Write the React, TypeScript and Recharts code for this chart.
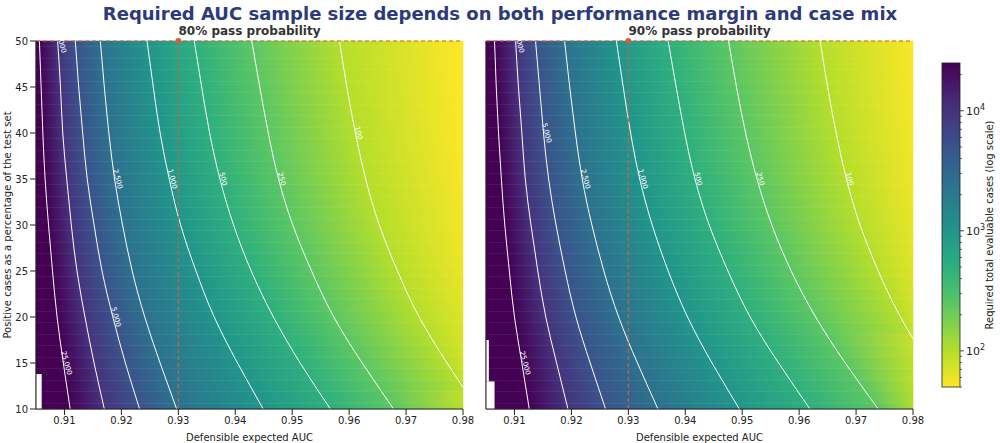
import React from "react";
import {
  ComposedChart,
  Line,
  XAxis,
  YAxis,
  ReferenceArea,
  ReferenceLine,
  ReferenceDot,
} from "recharts";

// percent positive rows (top to bottom)
const rowsY = [50, 45, 40, 35, 30, 25, 20, 15, 10];
const levels = [25000, 10000, 5000, 2500, 1000, 500, 250, 100];
const levelText = ["25,000", "10,000", "5,000", "2,500", "1,000", "500", "250", "100"];
const xTicks = [0.91, 0.92, 0.93, 0.94, 0.95, 0.96, 0.97, 0.98];
const yTicks = [10, 15, 20, 25, 30, 35, 40, 45, 50];

// AUC where each contour level crosses each row
const contours80 = [
  [0.9056, 0.9059, 0.9062, 0.9066, 0.9072, 0.9079, 0.9087, 0.9098, 0.911],
  [0.9088, 0.9093, 0.9097, 0.9104, 0.9112, 0.9122, 0.9136, 0.9152, 0.917],
  [0.9119, 0.9125, 0.9132, 0.914, 0.9152, 0.9166, 0.9185, 0.9207, 0.9232],
  [0.9163, 0.917, 0.9178, 0.9188, 0.9202, 0.9219, 0.9241, 0.9268, 0.9297],
  [0.9245, 0.9256, 0.9268, 0.9284, 0.9304, 0.9331, 0.9363, 0.9404, 0.9449],
  [0.9328, 0.9341, 0.9355, 0.9373, 0.9397, 0.9428, 0.9467, 0.9514, 0.9567],
  [0.9429, 0.9443, 0.9458, 0.9476, 0.9501, 0.9534, 0.9573, 0.9623, 0.9678],
  [0.9583, 0.9596, 0.9611, 0.9629, 0.9653, 0.9685, 0.9723, 0.9772, 0.9825],
];
const contours90 = [
  [0.9065, 0.9068, 0.9072, 0.9077, 0.9083, 0.9091, 0.91, 0.9113, 0.9126],
  [0.9102, 0.9107, 0.9113, 0.9119, 0.9129, 0.9141, 0.9155, 0.9174, 0.9194],
  [0.9137, 0.9144, 0.9151, 0.916, 0.9173, 0.9189, 0.9208, 0.9233, 0.926],
  [0.9188, 0.9197, 0.9207, 0.9219, 0.9236, 0.9257, 0.9283, 0.9316, 0.9352],
  [0.9279, 0.9291, 0.9304, 0.932, 0.9342, 0.937, 0.9404, 0.9447, 0.9495],
  [0.937, 0.9384, 0.9399, 0.9417, 0.9442, 0.9475, 0.9514, 0.9564, 0.9619],
  [0.9476, 0.949, 0.9506, 0.9526, 0.9552, 0.9586, 0.9629, 0.9681, 0.9739],
  [0.9637, 0.965, 0.9665, 0.9683, 0.9707, 0.9739, 0.9778, 0.9827, 0.988],
];
// required cases at AUC 0.98 for each row
const rightEdge80 = [50, 50, 51, 53, 56, 60, 67, 78, 95];
const rightEdge90 = [52, 53, 55, 58, 62, 68, 78, 92, 108];
// label row index per level
const labelIdx80 = [7, 0, 6, 3, 3, 3, 3, 2];
const labelIdx90 = [7, 0, 2, 3, 3, 3, 3, 3];

const X0 = 0.905;
const X1 = 0.98;
const SUB = 4; // fill bands per row step
const LOG_MIN = Math.log10(50);
const LOG_MAX = Math.log10(25000);

const VIRIDIS = [
  "#440154", "#482878", "#3e4989", "#31688e", "#26828e",
  "#1f9e89", "#35b779", "#6ece58", "#b5de2b", "#fde725",
];
function hex(c: string) {
  return [1, 3, 5].map((i) => parseInt(c.slice(i, i + 2), 16));
}
function viridis(t: number) {
  t = Math.max(0, Math.min(1, t));
  const p = t * (VIRIDIS.length - 1);
  const i = Math.min(VIRIDIS.length - 2, Math.floor(p));
  const f = p - i;
  const a = hex(VIRIDIS[i]);
  const b = hex(VIRIDIS[i + 1]);
  const m = a.map((v, k) => Math.round(v + (b[k] - v) * f));
  return `rgb(${m[0]},${m[1]},${m[2]})`;
}
function caseColor(v: number) {
  return viridis(1 - (Math.log10(v) - LOG_MIN) / (LOG_MAX - LOG_MIN));
}

// fill bands: blend between neighbouring rows for a smooth shading
function bands(contours: number[][], edge: number[]) {
  const out: { y: number; stops: { o: number; c: string }[] }[] = [];
  const n = (rowsY.length - 1) * SUB;
  for (let k = 0; k <= n; k++) {
    const r = Math.min(rowsY.length - 2, Math.floor(k / SUB));
    const f = k / SUB - r;
    const y = rowsY[r] + (rowsY[r + 1] - rowsY[r]) * f;
    const stops: { o: number; c: string }[] = [{ o: 0, c: caseColor(40000) }];
    levels.forEach((lv, li) => {
      const x = contours[li][r] + (contours[li][r + 1] - contours[li][r]) * f;
      if (x < X1) stops.push({ o: (x - X0) / (X1 - X0), c: caseColor(lv) });
    });
    const e = Math.pow(10, Math.log10(edge[r]) * (1 - f) + Math.log10(edge[r + 1]) * f);
    stops.push({ o: 1, c: caseColor(e) });
    out.push({ y, stops });
  }
  return out;
}

function Gradients({ id, contours, edge }: { id: string; contours: number[][]; edge: number[] }) {
  return (
    <>
      {bands(contours, edge).map((b, r) => (
        <linearGradient key={r} id={`${id}-${r}`} x1="0" y1="0" x2="1" y2="0">
          {b.stops.map((s, k) => (
            <stop key={k} offset={s.o} stopColor={s.c} />
          ))}
        </linearGradient>
      ))}
    </>
  );
}

function Panel({
  id,
  contours,
  edge,
  labelIdx,
  showYLabels,
  nanAreas,
}: {
  id: string;
  contours: number[][];
  edge: number[];
  labelIdx: number[];
  showYLabels: boolean;
  nanAreas: number[][];
}) {
  const half = 5 / SUB / 2;
  return (
    <ComposedChart width={480} height={443} margin={{ top: 41, right: 17, bottom: 0, left: 0 }}>
      <XAxis
        type="number"
        dataKey="x"
        domain={[X0, X1]}
        ticks={xTicks}
        allowDataOverflow
        tickFormatter={(v) => v.toFixed(2)}
        tick={{ fontSize: 10, fill: "#222" }}
        stroke="#222"
        height={34}
        label={{ value: "Defensible expected AUC", position: "insideBottom", offset: 2, fontSize: 10, fill: "#222" }}
      />
      <YAxis
        type="number"
        dataKey="y"
        domain={[10, 50]}
        ticks={yTicks}
        allowDataOverflow
        width={36}
        tick={showYLabels ? { fontSize: 10, fill: "#222" } : false}
        stroke="#222"
      />
      {bands(contours, edge).map((b, r) => (
        <ReferenceArea
          key={r}
          x1={X0}
          x2={X1}
          y1={Math.max(10, b.y - half)}
          y2={Math.min(50, b.y + half)}
          fill={`url(#${id}-${r})`}
          fillOpacity={1}
          stroke={`url(#${id}-${r})`}
          strokeWidth={0.6}
        />
      ))}
      {nanAreas.map((a, k) => (
        <ReferenceArea key={k} x1={a[0]} x2={a[1]} y1={a[2]} y2={a[3]} fill="#fff" fillOpacity={1} />
      ))}
      {levels.map((lv, li) => (
        <Line
          key={lv}
          data={rowsY.map((y, r) => ({ x: contours[li][r], y }))}
          dataKey="y"
          type="natural"
          stroke="#fff"
          strokeWidth={1}
          dot={false}
          isAnimationActive={false}
          label={(p: any) =>
            p.index === labelIdx[li] ? (
              <text
                key={p.index}
                x={p.x + 3}
                y={p.y}
                fill="#fff"
                fontSize={7}
                textAnchor="middle"
                dominantBaseline="central"
                transform={`rotate(75 ${p.x + 3} ${p.y})`}
              >
                {levelText[li]}
              </text>
            ) : (
              <g key={p.index} />
            )
          }
        />
      ))}
      <ReferenceLine x={0.93} stroke="#d1603d" strokeDasharray="4 3" strokeWidth={1.2} />
      <ReferenceLine y={50} stroke="#d1603d" strokeDasharray="4 3" strokeWidth={1.2} />
      <ReferenceDot x={0.93} y={50} r={3} fill="#d1603d" stroke="none" />
    </ComposedChart>
  );
}

function Colorbar() {
  const top = 63;
  const bot = 387;
  const yOf = (v: number) => bot - ((Math.log10(v) - LOG_MIN) / (LOG_MAX - LOG_MIN)) * (bot - top);
  const minor: number[] = [];
  [10, 100, 1000, 10000].forEach((d) => {
    for (let k = 2; k <= 9; k++) if (d * k >= 50 && d * k <= 25000) minor.push(d * k);
  });
  const stops = Array.from({ length: 11 }, (_, i) => i / 10);
  return (
    <svg width={1000} height={443} style={{ position: "absolute", left: 0, top: 0, pointerEvents: "none" }}>
      <defs>
        <linearGradient id="cbar" x1="0" y1="1" x2="0" y2="0">
          {stops.map((s) => (
            <stop key={s} offset={s} stopColor={viridis(1 - s)} />
          ))}
        </linearGradient>
      </defs>
      <rect x={942} y={top} width={18} height={bot - top} fill="url(#cbar)" stroke="#222" strokeWidth={0.8} />
      {minor.map((v) => (
        <line key={v} x1={960} x2={962} y1={yOf(v)} y2={yOf(v)} stroke="#222" strokeWidth={0.7} />
      ))}
      {[100, 1000, 10000].map((v, i) => (
        <g key={v}>
          <line x1={960} x2={964} y1={yOf(v)} y2={yOf(v)} stroke="#222" strokeWidth={0.8} />
          <text x={966} y={yOf(v) + 4} fontSize={11} fill="#222" fontFamily="DejaVu Sans">
            10
            <tspan dy={-5} fontSize={8}>
              {i + 2}
            </tspan>
          </text>
        </g>
      ))}
      <text
        x={993}
        y={225}
        fontSize={10}
        fill="#222"
        textAnchor="middle"
        fontFamily="DejaVu Sans"
        transform="rotate(-90 993 225)"
      >
        Required total evaluable cases (log scale)
      </text>
    </svg>
  );
}

export default function App() {
  return (
    <div style={{ position: "absolute", left: 0, top: 0, width: 1000, height: 443, background: "#fff", fontFamily: "DejaVu Sans" }}>
      <svg width={0} height={0} style={{ position: "absolute" }}>
        <defs>
          <Gradients id="g80" contours={contours80} edge={rightEdge80} />
          <Gradients id="g90" contours={contours90} edge={rightEdge90} />
        </defs>
      </svg>
      <div style={{ position: "absolute", top: 3, width: 1000, textAlign: "center", fontSize: 18, fontWeight: "bold", color: "#2c3a7c" }}>
        Required AUC sample size depends on both performance margin and case mix
      </div>
      <div style={{ position: "absolute", top: 24, left: 36, width: 427, textAlign: "center", fontSize: 12, fontWeight: "bold", color: "#333" }}>
        80% pass probability
      </div>
      <div style={{ position: "absolute", top: 24, left: 486, width: 427, textAlign: "center", fontSize: 12, fontWeight: "bold", color: "#333" }}>
        90% pass probability
      </div>
      <div style={{ position: "absolute", left: 0, top: 0 }}>
        <Panel id="g80" contours={contours80} edge={rightEdge80} labelIdx={labelIdx80} showYLabels nanAreas={[[0.905, 0.906, 10, 13.8]]} />
      </div>
      <div style={{ position: "absolute", left: 450, top: 0 }}>
        <Panel
          id="g90"
          contours={contours90}
          edge={rightEdge90}
          labelIdx={labelIdx90}
          showYLabels={false}
          nanAreas={[[0.905, 0.9055, 13, 17.5], [0.905, 0.9065, 10, 13]]}
        />
      </div>
      <div
        style={{
          position: "absolute",
          left: 7,
          top: 225,
          fontSize: 10,
          color: "#222",
          whiteSpace: "nowrap",
          transform: "translate(-50%, -50%) rotate(-90deg)",
        }}
      >
        Positive cases as a percentage of the test set
      </div>
      <Colorbar />
    </div>
  );
}
